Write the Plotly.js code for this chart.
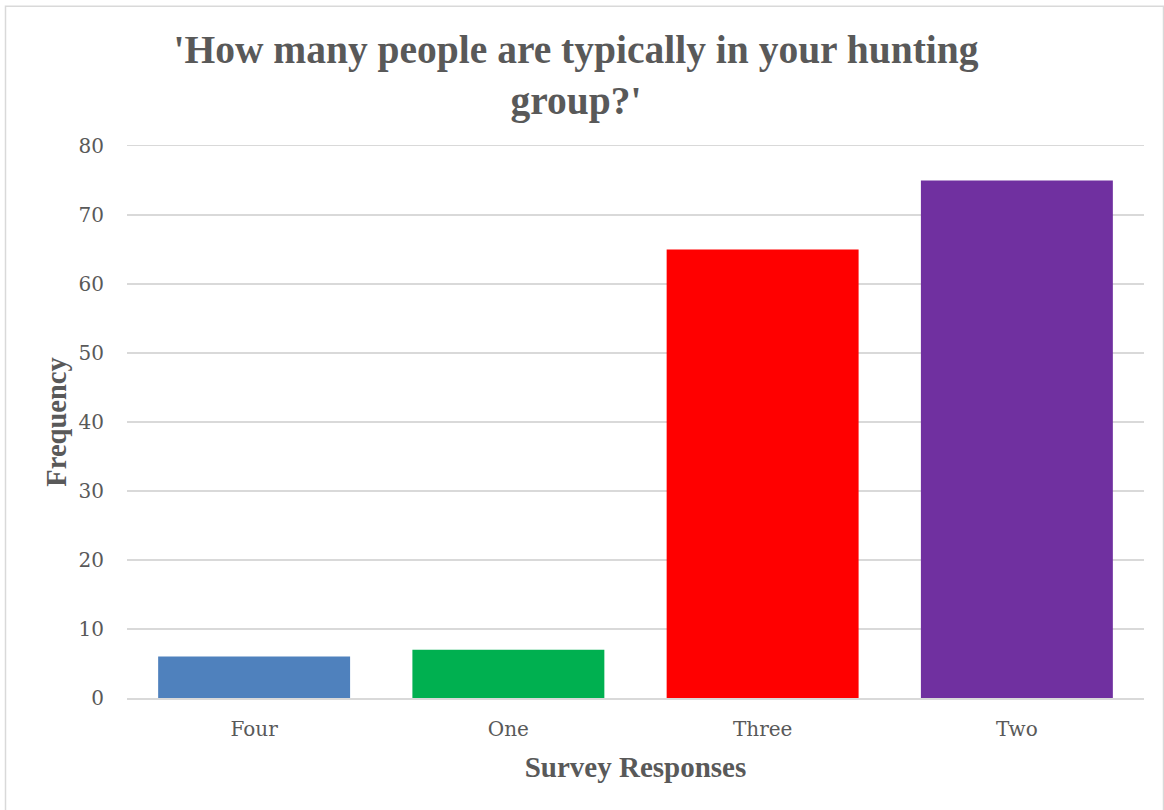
<!DOCTYPE html>
<html>
<head>
<meta charset="utf-8">
<script src="https://cdn.plot.ly/plotly-3.0.1.min.js"></script>
<style>
html,body{margin:0;padding:0;background:#fff;}
#chart{width:1164px;height:810px;}
</style>
</head>
<body>
<div id="chart"></div>
<script>
const categories = ["Four", "One", "Three", "Two"];
const frequencies = [6, 7, 65, 75];
const barColors = ["#4F81BD", "#00B050", "#FF0000", "#7030A0"];
const yTicks = [0, 10, 20, 30, 40, 50, 60, 70, 80];

const W = 1164, H = 810;
const m = {l: 127, r: 20, t: 145.5, b: 111.5};
const pw = W - m.l - m.r, ph = H - m.t - m.b;
const px = v => (v - m.l) / pw;
const py = v => (H - m.b - v) / ph;

const titleSerif = "Liberation Serif, serif";
const tickSerif = "DejaVu Serif, serif";
const grey = "#595959";

const trace = {
  type: "bar",
  x: categories,
  y: frequencies,
  marker: {color: barColors},
  hoverinfo: "x+y"
};

const layout = {
  width: W, height: H,
  margin: m,
  paper_bgcolor: "#fff",
  plot_bgcolor: "#fff",
  bargap: 0.245,
  showlegend: false,
  title: {
    text: "'How many people are typically in your hunting<br>group?'",
    font: {family: titleSerif, size: 39.5, color: grey, weight: "bold"},
    x: 576 / W, xref: "container", xanchor: "center",
    y: 1 - 63 / H, yref: "container", yanchor: "top"
  },
  xaxis: {
    type: "category",
    showgrid: false,
    zeroline: false,
    showline: true,
    mirror: true,
    linecolor: "#D9D9D9",
    linewidth: 1.5,
    ticks: "",
    ticklabelstandoff: 12,
    tickfont: {family: tickSerif, size: 20, color: grey},
    title: {text: "<b>Survey Responses</b>", font: {family: titleSerif, size: 29, color: grey}, standoff: 17}
  },
  yaxis: {
    range: [0, 80],
    tickvals: yTicks,
    showgrid: true,
    gridcolor: "#D9D9D9",
    gridwidth: 1.5,
    zeroline: false,
    showline: false,
    ticks: "",
    ticklabelstandoff: 22,
    tickfont: {family: tickSerif, size: 20, color: grey},
    title: {text: "<b>Frequency</b>", font: {family: titleSerif, size: 28.5, color: grey}, standoff: 3}
  },
  shapes: [{
    type: "rect", xref: "paper", yref: "paper",
    x0: px(5.5), x1: px(1163.5), y0: py(812), y1: py(5.5),
    line: {color: "#D9D9D9", width: 1.5}, fillcolor: "rgba(0,0,0,0)", layer: "below"
  }]
};

Plotly.newPlot("chart", [trace], layout, {displayModeBar: false, staticPlot: true});
</script>
</body>
</html>
